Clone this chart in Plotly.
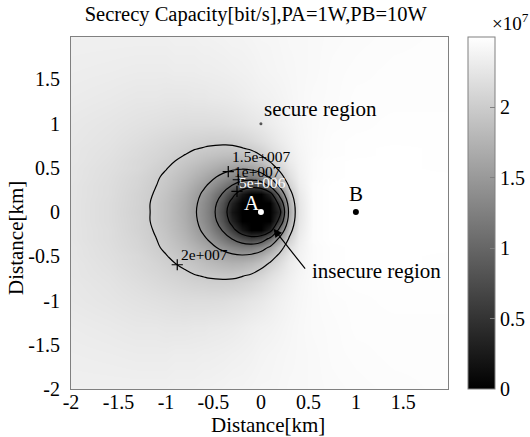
import plotly.graph_objects as go

# ---------------- data (units of 1e7 bit/s) -------------
x_km = [-2.0, -1.6, -1.3, -1.2, -1.1, -1.0, -0.9, -0.8, -0.7, -0.6, -0.55, -0.4, -0.3,
        -0.2, -0.1, 0.0, 0.1, 0.2, 0.3, 0.4, 0.55, 0.75, 1.0, 1.4, 2.0]
y_km = [-2.0, -1.6, -1.3, -1.0, -0.8, -0.72, -0.65, -0.58, -0.5, -0.4, -0.3, -0.2, -0.1,
        0.0, 0.1, 0.2, 0.3, 0.4, 0.5, 0.58, 0.65, 0.72, 0.8, 1.0, 1.3, 1.6, 2.0]

row_y200 = [2.35, 2.35, 2.35, 2.35, 2.35, 2.35, 2.36, 2.36, 2.36, 2.37, 2.37, 2.38, 2.39, 2.39, 2.40, 2.41, 2.41, 2.42, 2.43, 2.43, 2.44, 2.45, 2.46, 2.47, 2.48]
row_y160 = [2.33, 2.32, 2.31, 2.31, 2.31, 2.31, 2.32, 2.32, 2.32, 2.33, 2.33, 2.34, 2.35, 2.36, 2.37, 2.39, 2.40, 2.41, 2.42, 2.43, 2.44, 2.46, 2.47, 2.48, 2.48]
row_y130 = [2.31, 2.29, 2.27, 2.27, 2.27, 2.26, 2.26, 2.26, 2.27, 2.27, 2.28, 2.29, 2.30, 2.32, 2.34, 2.36, 2.37, 2.39, 2.41, 2.43, 2.45, 2.46, 2.48, 2.48, 2.48]
row_y100 = [2.28, 2.25, 2.22, 2.21, 2.20, 2.19, 2.18, 2.17, 2.17, 2.17, 2.17, 2.18, 2.20, 2.22, 2.25, 2.28, 2.32, 2.36, 2.39, 2.42, 2.45, 2.47, 2.48, 2.49, 2.49]
row_y080 = [2.27, 2.23, 2.18, 2.16, 2.14, 2.12, 2.10, 2.08, 2.06, 2.05, 2.04, 2.04, 2.05, 2.08, 2.12, 2.18, 2.24, 2.31, 2.36, 2.41, 2.45, 2.48, 2.49, 2.49, 2.49]
row_y072 = [2.26, 2.22, 2.16, 2.14, 2.12, 2.09, 2.07, 2.04, 2.01, 1.99, 1.98, 1.96, 1.96, 1.99, 2.03, 2.10, 2.19, 2.27, 2.34, 2.40, 2.45, 2.48, 2.49, 2.50, 2.49]
row_y065 = [2.26, 2.21, 2.15, 2.12, 2.10, 2.07, 2.03, 2.00, 1.96, 1.92, 1.91, 1.87, 1.86, 1.88, 1.93, 2.01, 2.12, 2.23, 2.32, 2.39, 2.45, 2.48, 2.49, 2.50, 2.49]
row_y058 = [2.26, 2.20, 2.13, 2.11, 2.08, 2.04, 2.00, 1.95, 1.91, 1.86, 1.83, 1.77, 1.74, 1.75, 1.80, 1.89, 2.03, 2.17, 2.30, 2.38, 2.46, 2.49, 2.50, 2.50, 2.49]
row_y050 = [2.25, 2.19, 2.13, 2.09, 2.05, 2.01, 1.96, 1.90, 1.84, 1.77, 1.74, 1.63, 1.57, 1.55, 1.59, 1.70, 1.87, 2.08, 2.25, 2.37, 2.46, 2.49, 2.50, 2.50, 2.49]
row_y040 = [2.25, 2.18, 2.10, 2.06, 2.02, 1.97, 1.91, 1.84, 1.76, 1.66, 1.60, 1.42, 1.31, 1.22, 1.21, 1.33, 1.57, 1.89, 2.17, 2.35, 2.46, 2.49, 2.50, 2.50, 2.50]
row_y030 = [2.24, 2.17, 2.09, 2.04, 2.00, 1.94, 1.87, 1.78, 1.67, 1.54, 1.47, 1.19, 0.98, 0.77, 0.65, 0.74, 1.09, 1.59, 2.04, 2.32, 2.47, 2.50, 2.50, 2.50, 2.50]
row_y020 = [2.24, 2.17, 2.07, 2.03, 1.98, 1.91, 1.83, 1.73, 1.60, 1.44, 1.34, 0.96, 0.62, 0.22, 0.00, 0.00, 0.33, 1.15, 1.87, 2.28, 2.47, 2.50, 2.50, 2.50, 2.50]
row_y010 = [2.24, 2.16, 2.07, 2.02, 1.96, 1.89, 1.81, 1.70, 1.56, 1.37, 1.26, 0.79, 0.33, 0.00, 0.00, 0.00, 0.00, 0.65, 1.70, 2.25, 2.47, 2.50, 2.50, 2.50, 2.50]
row_y000 = [2.24, 2.16, 2.06, 2.02, 1.96, 1.89, 1.80, 1.69, 1.54, 1.35, 1.23, 0.72, 0.20, 0.00, 0.00, 0.00, 0.00, 0.40, 1.62, 2.24, 2.47, 2.50, 2.50, 2.50, 2.50]

secrecy_1e7 = [row_y200, row_y160, row_y130, row_y100, row_y080, row_y072, row_y065,
               row_y058, row_y050, row_y040, row_y030, row_y020, row_y010,
               row_y000,
               row_y010, row_y020, row_y030, row_y040, row_y050, row_y058,
               row_y065, row_y072, row_y080, row_y100, row_y130, row_y160, row_y200]

contour_levels = [0.5, 1.0, 1.5, 2.0]
cbar_ticks = [0, 0.5, 1, 1.5, 2]
cbar_ticktext = ["0", "0.5", "1", "1.5", "2"]
axis_ticks = [-2, -1.5, -1, -0.5, 0, 0.5, 1, 1.5]
axis_ticktext = ["-2", "-1.5", "-1", "-0.5", "0", "0.5", "1", "1.5"]

label_text = ["2e+007", "1.5e+007", "1e+007", "5e+006"]
label_color = ["black", "black", "black", "white"]
label_plus_x = [-0.881, -0.344, -0.238, -0.252]
label_plus_y = [-0.595, 0.457, 0.366, 0.234]
label_text_x = [-0.867, -0.33, -0.305, -0.252]
label_text_y = [-0.479, 0.625, 0.462, 0.331]

node_a = (0.0, 0.0)
node_b = (1.0, 0.0)
secure_pt = (0.0, 1.0)

FONT = "Liberation Serif, Times New Roman, serif"

fig = go.Figure()

fig.add_trace(go.Heatmap(
    x=x_km, y=y_km, z=secrecy_1e7, zmin=0, zmax=2.5, zsmooth="best",
    colorscale=[[0, "rgb(0,0,0)"], [1, "rgb(255,255,255)"]],
    hoverinfo="skip",
    colorbar=dict(
        x=1.0523, xanchor="left", xpad=0, ypad=0, y=0.5, yanchor="middle",
        len=1.0, lenmode="fraction", thickness=27,
        outlinecolor="#808080", outlinewidth=1,
        tickvals=cbar_ticks, ticktext=cbar_ticktext,
        ticks="inside", ticklen=5, tickcolor="#808080",
        tickfont=dict(family=FONT, size=20, color="black"),
    ),
))

fig.add_trace(go.Contour(
    x=x_km, y=y_km, z=secrecy_1e7, showscale=False, hoverinfo="skip",
    contours=dict(start=contour_levels[0], end=contour_levels[-1],
                  size=contour_levels[1] - contour_levels[0], coloring="none"),
    line=dict(color="black", width=1.2, smoothing=1.3),
))

fig.add_trace(go.Scatter(
    x=label_plus_x, y=label_plus_y, mode="markers", hoverinfo="skip",
    marker=dict(symbol="cross-thin", size=8, line=dict(color="black", width=1.2)),
))

fig.add_trace(go.Scatter(x=[node_a[0]], y=[node_a[1]], mode="markers", hoverinfo="skip",
                         marker=dict(color="white", size=6)))
fig.add_trace(go.Scatter(x=[node_b[0]], y=[node_b[1]], mode="markers", hoverinfo="skip",
                         marker=dict(color="black", size=6)))
fig.add_trace(go.Scatter(x=[secure_pt[0]], y=[secure_pt[1]], mode="markers", hoverinfo="skip",
                         marker=dict(color="#555555", size=3)))

ann = []
for t, c, tx, ty in zip(label_text, label_color, label_text_x, label_text_y):
    ann.append(dict(x=tx, y=ty, xref="x", yref="y", text=t, showarrow=False,
                    xanchor="left", yanchor="middle",
                    font=dict(family=FONT, size=15.5, color=c)))

ann += [
    dict(x=-0.094, y=0.103, xref="x", yref="y", text="A", showarrow=False,
         font=dict(family=FONT, size=21, color="white")),
    dict(x=1.002, y=0.208, xref="x", yref="y", text="B", showarrow=False,
         font=dict(family=FONT, size=21, color="black")),
    dict(x=0.011, y=1.169, xref="x", yref="y", text="secure region", showarrow=False,
         xanchor="left", yanchor="middle", font=dict(family=FONT, size=21, color="black")),
    dict(x=0.521, y=-0.663, xref="x", yref="y", text="insecure region", showarrow=False,
         xanchor="left", yanchor="middle", font=dict(family=FONT, size=21, color="black")),
    dict(x=0.133, y=-0.188, ax=0.478, ay=-0.657, xref="x", yref="y", axref="x", ayref="y",
         text="", showarrow=True, arrowhead=2, arrowsize=1.4, arrowwidth=1.2, arrowcolor="black"),
    dict(x=1.111, y=1.003, xref="paper", yref="paper", text="×10<sup>7</sup>", showarrow=False,
         xanchor="left", yanchor="bottom", font=dict(family=FONT, size=19, color="black")),
    dict(x=0.5225, y=-0.1023, xref="paper", yref="paper", text="Distance[km]", showarrow=False,
         xanchor="center", yanchor="middle", font=dict(family=FONT, size=21, color="black")),
    dict(x=-0.1459, y=0.429, xref="paper", yref="paper", text="Distance[km]", showarrow=False,
         textangle=-90, xanchor="center", yanchor="middle",
         font=dict(family=FONT, size=21, color="black")),
]

axis_common = dict(showgrid=False, zeroline=False, showline=True, mirror=True,
                   linecolor="#808080", linewidth=1, ticks="",
                   tickfont=dict(family=FONT, size=20, color="black"))

fig.update_layout(
    width=530, height=437,
    margin=dict(l=71, r=82, t=37, b=48, autoexpand=False),
    paper_bgcolor="white", plot_bgcolor="white",
    showlegend=False,
    title=dict(text="Secrecy Capacity[bit/s],PA=1W,PB=10W", x=0.49, xref="paper",
               xanchor="center", y=1 - 13.5 / 437, yref="container", yanchor="middle",
               font=dict(family=FONT, size=20.5, color="black")),
    xaxis=dict(range=[-2, 1.97], tickvals=axis_ticks, ticktext=axis_ticktext,
               ticklabelstandoff=-5, **axis_common),
    yaxis=dict(range=[-2, 1.98], tickvals=axis_ticks, ticktext=axis_ticktext,
               ticklabelstandoff=6, **axis_common),
    annotations=ann,
)

fig.write_html("out.html", config={"displayModeBar": False},
               post_script="document.body.style.margin='0px';")
